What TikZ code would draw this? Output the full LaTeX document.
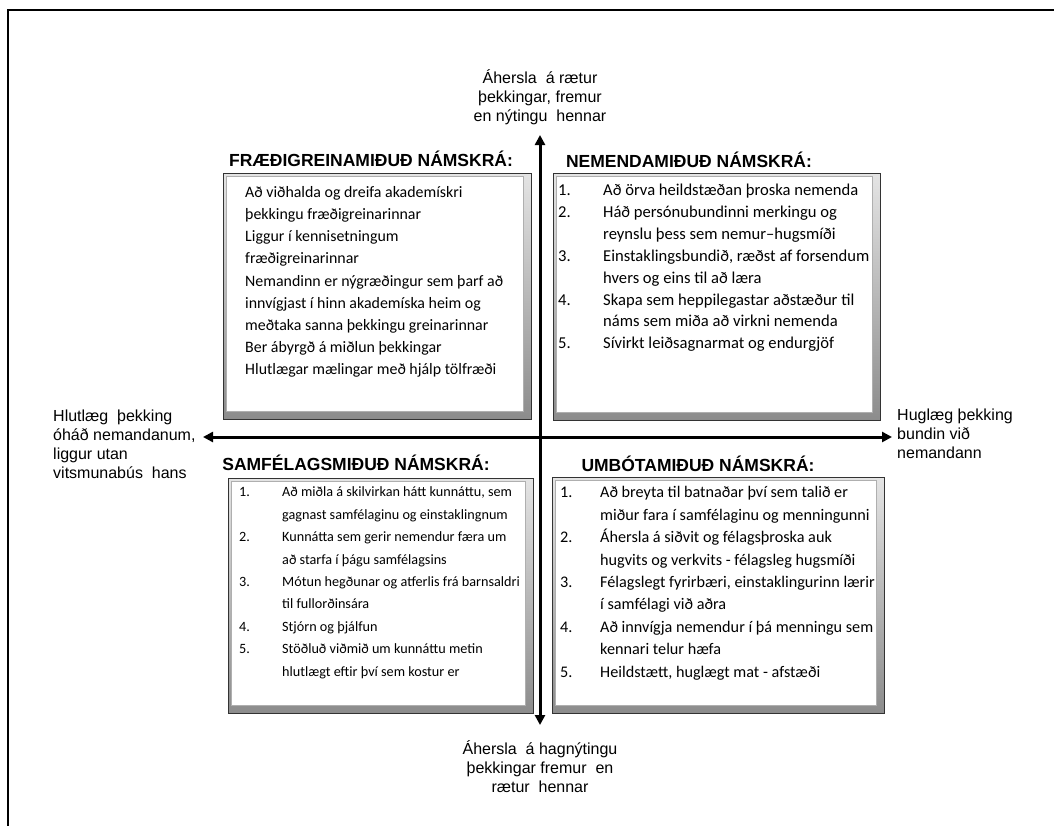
\documentclass[tikz,border=0pt]{standalone}
\usepackage{fontspec}
\setmainfont{Carlito}
\newfontfamily\arialfont{Liberation Sans}
\usetikzlibrary{arrows.meta,positioning}
\definecolor{qInk}{HTML}{000000}
\definecolor{qBevelLight}{HTML}{E4E4E4}
\definecolor{qBevelDark}{HTML}{8C8C8C}
\tikzset{
    qbox/.style={draw=qInk!80, line width=0.8pt, inner sep=0pt, top color=qBevelLight, bottom color=qBevelDark,
        path picture={\fill[white, draw=qBevelDark!70] ([shift={(3pt,-3pt)}]path picture bounding box.north west) rectangle ([shift={(-8pt,8pt)}]path picture bounding box.south east);}},
    qlist/.style 2 args={anchor=north west, inner sep=0pt, align=left, font={\fontsize{#1}{#2}\selectfont}, text=qInk},
    qtitle/.style={inner sep=0pt, font={\arialfont\bfseries\fontsize{17.5}{20}\selectfont}, text=qInk},
    axislabel/.style={inner sep=0pt, font={\arialfont\fontsize{16}{19}\selectfont}, text=qInk},
    axis/.style={{Triangle[length=10pt,width=10pt]}-{Triangle[length=10pt,width=10pt]}, line width=3pt, draw=qInk}
}
\begin{document}
\begin{tikzpicture}[x=1pt,y=-1pt]
\useasboundingbox (0,0) rectangle (1054,825);
\draw[line width=2pt, qInk] (8,826) -- (8,10) -- (1056,10);

\node[qbox, minimum width=308pt, minimum height=246pt] (tlbox) at (377,296) {};
\node[qbox, minimum width=327pt, minimum height=247pt] (trbox) at (716.5,296.5) {};
\node[qbox, minimum width=305pt, minimum height=235pt] (blbox) at (380.5,595.5) {};
\node[qbox, minimum width=332pt, minimum height=236pt] (brbox) at (718,595) {};

\coordinate (top) at (540,135);
\coordinate (bot) at (540,725);
\coordinate (lft) at (203,437);
\coordinate (rgt) at (892,437);
\draw[axis] (top) -- (bot);
\draw[axis] (lft) -- (rgt);

\node[qtitle] (tltitle) at (371,159) {FRÆÐIGREINAMIÐUÐ NÁMSKRÁ:};
\node[qtitle] (trtitle) at (689,160) {NEMENDAMIÐUÐ NÁMSKRÁ:};
\node[qtitle] (bltitle) at (356,463) {SAMFÉLAGSMIÐUÐ NÁMSKRÁ:};
\node[qtitle] (brtitle) at (698,464) {UMBÓTAMIÐUÐ NÁMSKRÁ:};

\node[qlist={15.9}{22.1}] (tllist) at (245,182) {\begin{tabular}{@{}l@{}}
Að viðhalda og dreifa akademískri\\
þekkingu fræðigreinarinnar\\
Liggur í kennisetningum\\
fræðigreinarinnar\\
Nemandinn er nýgræðingur sem þarf að\\
innvígjast í hinn akademíska heim og\\
meðtaka sanna þekkingu greinarinnar\\
Ber ábyrgð á miðlun þekkingar\\
Hlutlægar mælingar með hjálp tölfræði
\end{tabular}};

\node[qlist={16.6}{21.9}] (trlist) at (558,180) {\begin{tabular}{@{}p{45pt}@{}l@{}}
1. & Að örva heildstæðan þroska nemenda\\
2. & Háð persónubundinni merkingu og\\
   & reynslu þess sem nemur–hugsmíði\\
3. & Einstaklingsbundið, ræðst af forsendum\\
   & hvers og eins til að læra\\
4. & Skapa sem heppilegastar aðstæður til\\
   & náms sem miða að virkni nemenda\\
5. & Sívirkt leiðsagnarmat og endurgjöf
\end{tabular}};

\node[qlist={14.2}{22.4}] (bllist) at (239,481) {\begin{tabular}{@{}p{43pt}@{}l@{}}
1. & Að miðla á skilvirkan hátt kunnáttu, sem\\
   & gagnast samfélaginu og einstaklingnum\\
2. & Kunnátta sem gerir nemendur færa um\\
   & að starfa í þágu samfélagsins\\
3. & Mótun hegðunar og atferlis frá barnsaldri\\
   & til fullorðinsára\\
4. & Stjórn og þjálfun\\
5. & Stöðluð viðmið um kunnáttu metin\\
   & hlutlægt eftir því sem kostur er
\end{tabular}};

\node[qlist={16.2}{22.4}] (brlist) at (560,482) {\begin{tabular}{@{}p{40pt}@{}l@{}}
1. & Að breyta til batnaðar því sem talið er\\
   & miður fara í samfélaginu og menningunni\\
2. & Áhersla á siðvit og félagsþroska auk\\
   & hugvits og verkvits - félagsleg hugsmíði\\
3. & Félagslegt fyrirbæri, einstaklingurinn lærir\\
   & í samfélagi við aðra\\
4. & Að innvígja nemendur í þá menningu sem\\
   & kennari telur hæfa\\
5. & Heildstætt, huglægt mat - afstæði
\end{tabular}};

\node[axislabel, align=center, anchor=south] (toplabel) at (540,125) {Áhersla~ á rætur\\ þekkingar, fremur\\ en nýtingu~ hennar};
\node[axislabel, align=center, anchor=north] (botlabel) at (540,740) {Áhersla~ á hagnýtingu\\ þekkingar fremur~ en\\ rætur~ hennar};
\node[axislabel, align=left, anchor=north west] (lftlabel) at (53,410) {Hlutlæg~ þekking\\ óháð nemandanum,\\ liggur utan\\ vitsmunabús~ hans};
\node[axislabel, align=left, anchor=north west] (rgtlabel) at (897,409) {Huglæg þekking\\ bundin við\\ nemandann};
\end{tikzpicture}
\end{document}
